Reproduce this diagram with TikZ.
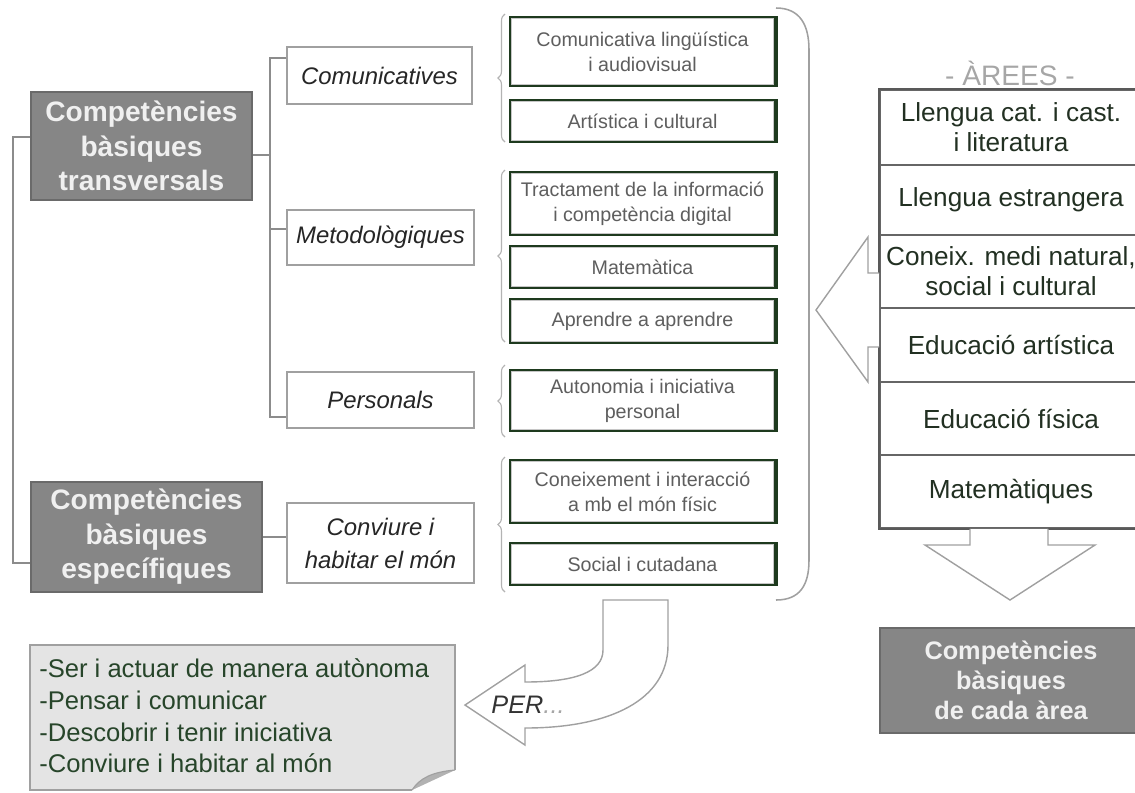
\documentclass[tikz,border=0pt]{standalone}
\usepackage{fontspec}
\setmainfont{Liberation Sans}
\usetikzlibrary{decorations.pathreplacing}
\definecolor{dkgreen}{HTML}{1E3A1E}
\definecolor{boxgray}{HTML}{868686}
\definecolor{boxedge}{HTML}{6A6A6A}
\definecolor{linegray}{HTML}{8C8C8C}
\definecolor{lightedge}{HTML}{A0A0A0}
\definecolor{gtext}{HTML}{5E5E5E}
\definecolor{tabtext}{HTML}{223022}
\definecolor{notetext}{HTML}{27452A}
\definecolor{notefill}{HTML}{E4E4E4}
\definecolor{foldfill}{HTML}{B2B2B2}
\begin{document}
\begin{tikzpicture}[x=0.025cm,y=-0.025cm,
  wh/.style 2 args={minimum width=#1*0.025cm, minimum height=#2*0.025cm},
  graybox/.style={draw=boxedge, fill=boxgray, line width=1.2pt, inner sep=0pt,
    text=white!94!black, align=center, font=\bfseries\fontsize{20}{24.5}\selectfont},
  midbox/.style={draw=lightedge, fill=white, line width=1.1pt, inner sep=0pt,
    text=black!85, align=center, font=\itshape\fontsize{17}{23.5}\selectfont},
  gbox/.style={draw=dkgreen, fill=white, line width=2pt, inner sep=0pt,
    text=gtext, align=center, font=\fontsize{14}{17.8}\selectfont},
  conn/.style={draw=linegray, line width=1.1pt},
  brc/.style={decorate, decoration={brace, amplitude=5pt}, draw=lightedge!80, line width=0.8pt},
  rowbox/.style={draw=black!60, fill=white, line width=1.2pt, inner sep=0pt,
    text=tabtext, align=center, font=\fontsize{18.6}{21.3}\selectfont},
  bigarrow/.style={draw=lightedge, fill=white, line width=1pt, line join=miter}
]
\useasboundingbox (0,0) rectangle (1135,792);
\clip (0,0) rectangle (1135,792);

% ---------- left column ----------
\node[graybox, wh={221}{108}] (trans) at (141.5,146) {Competències\\bàsiques\\transversals};
\node[graybox, wh={231}{110}] (espec) at (146.5,537) {Competències\\bàsiques\\específiques};

% ---------- middle column ----------
\node[midbox, wh={185}{57}] (com) at (379.5,75.5) {Comunicatives};
\node[midbox, wh={187}{55}] (met) at (380.5,237.5) {Metodològiques};
\node[midbox, wh={187}{56}] (pers) at (380.5,400) {Personals};
\node[midbox, wh={187}{80}] (conv) at (380.5,543) {Conviure i\\habitar el món};

% connectors
\draw[conn] (trans.west |- 0,137) -- (13,137) -- (13,563) -- (espec.west |- 0,563);
\draw[conn] (trans.east |- 0,155) -- (270,155);
\draw[conn] (com.west |- 0,58) -- (270,58) -- (270,417) -- (pers.west |- 0,417);
\draw[conn] (met.west |- 0,229) -- (270,229);
\draw[conn] (espec.east |- 0,537) -- (conv.west |- 0,537);

% ---------- green boxes ----------
\node[gbox, wh={265}{69}] (g1) at (642.5,51.5) {Comunicativa lingüística\\i audiovisual};
\node[gbox, wh={265}{42}] (g2) at (642.5,121) {Artística i cultural};
\node[gbox, wh={265}{63}] (g3) at (642.5,203.5) {Tractament de la informació\\i competència digital};
\node[gbox, wh={265}{42}] (g4) at (642.5,267) {Matemàtica};
\node[gbox, wh={265}{44}] (g5) at (642.5,321) {Aprendre a aprendre};
\node[gbox, wh={265}{61}] (g6) at (642.5,400.5) {Autonomia i iniciativa\\personal};
\node[gbox, wh={265}{63}] (g7) at (642.5,491.5) {Coneixement i interacció\\a mb el món físic};
\node[gbox, wh={265}{42}] (g8) at (642.5,564) {Social i cutadana};
\foreach \n in {g1,g2,g3,g4,g5,g6,g7,g8}{
  \draw[gray!45, line width=0.5pt] ([xshift=2.3pt,yshift=-2.3pt]\n.north west) rectangle ([xshift=-2.3pt,yshift=2.3pt]\n.south east);
  \draw[dkgreen, line width=1.3pt] ([xshift=0.6pt,yshift=-0.5pt]\n.north east) -- ([xshift=0.6pt,yshift=0.6pt]\n.south east) -- ([xshift=0pt,yshift=0.6pt]\n.south west);
}

% braces
\draw[brc] (505,142) -- (505,14);
\draw[brc] (505,342) -- (505,170);
\draw[brc] (505,437) -- (505,365);
\draw[brc] (505,592) -- (505,457);

% big bracket
\draw[draw=lightedge, line width=1.1pt] (776,8) .. controls (800,8) and (809,25) .. (809,50) -- (809,560) .. controls (809,585) and (800,600) .. (776,600);

% ---------- right column ----------
\node[text=gray!70, font=\fontsize{20}{24}\selectfont] (hdr) at (1010,73) {- ÀREES -};
\node[rowbox, wh={262}{75}] (r1) at (1011,127.5) {Llengua cat. i cast.\\i literatura};
\node[rowbox, wh={262}{70}] (r2) at (1011,200) {Llengua estrangera};
\node[rowbox, wh={262}{73}] (r3) at (1011,271.5) {Coneix. medi natural,\\social i cultural};
\node[rowbox, wh={262}{74}] (r4) at (1011,345) {Educació artística};
\node[rowbox, wh={262}{73}] (r5) at (1011,418.5) {Educació física};
\node[rowbox, wh={262}{73}] (r6) at (1011,491.5) {Matemàtiques};
\draw[black!65, line width=1.6pt] (r1.north east) -- (r1.north west) -- (r6.south west) -- (r6.south east);

% arrow from table to bracket
\draw[bigarrow] (r3.west |- 0,273) -- (868,273) -- (868,237) -- (816,310) -- (868,382) -- (868,347) -- (r4.west |- 0,347);

% down arrow
\draw[bigarrow] (970,0 |- r6.south) -- (970,545) -- (925,545) -- (1010,600) -- (1095,545) -- (1048,545) -- (1048,0 |- r6.south);

\node[graybox, wh={262}{105}, font=\bfseries\fontsize{18}{21.5}\selectfont] (cada) at (1011,680.5) {Competències\\bàsiques\\de cada àrea};

% ---------- note with folded corner ----------
\fill[notefill] (30,645) -- (455,645) -- (455,770) -- (412,790) -- (30,790) -- cycle;
\fill[foldfill] (455,770) .. controls (432,772) and (420,778) .. (412,790) -- cycle;
\draw[lightedge, line width=1.1pt] (412,790) -- (30,790) -- (30,645) -- (455,645) -- (455,770);
\draw[lightedge, line width=0.8pt] (455,770) .. controls (432,772) and (420,778) .. (412,790);
\node[anchor=west, align=left, text=notetext, inner sep=0pt, font=\fontsize{18.2}{22.6}\selectfont] (note) at (39,716)
  {-Ser i actuar de manera autònoma\\-Pensar i comunicar\\-Descobrir i tenir iniciativa\\-Conviure i habitar al món};

% ---------- PER arrow ----------
\draw[bigarrow] (603,600) -- (668,600) -- (668,645) .. controls (668,700) and (610,728) .. (525,728) -- (525,745) -- (465,705) -- (525,665) -- (525,682) .. controls (575,682) and (603,672) .. (603,650) -- cycle;
\node[font=\itshape\fontsize{18}{20}\selectfont, text=black!80] (perlbl) at (528,705) {PER\textcolor{gray!70}{...}};
\end{tikzpicture}
\end{document}
